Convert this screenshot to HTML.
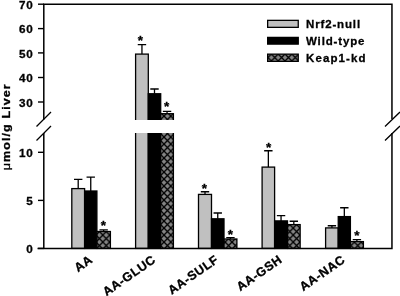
<!DOCTYPE html>
<html><head><meta charset="utf-8"><title>chart</title>
<style>
html,body{margin:0;padding:0;background:#fff;}
body{width:400px;height:296px;overflow:hidden;}
svg{display:block;}
text{font-family:"Liberation Sans",sans-serif;font-weight:bold;font-size:11.5px;fill:#000;letter-spacing:1px;stroke:#000;stroke-width:0.3px;}
</style></head><body>
<svg width="400" height="296" viewBox="0 0 400 296">
<defs>
<pattern id="hx" width="6.8" height="7" patternUnits="userSpaceOnUse" patternTransform="translate(0.8,4.1)">
<rect width="7" height="7" fill="#848484"/>
<path d="M-0.97,-1 L7.77,8 M-0.97,8 L7.77,-1" stroke="#000" stroke-width="1.35" fill="none"/>
</pattern>
<pattern id="hx2" width="6.8" height="7" patternUnits="userSpaceOnUse" patternTransform="translate(-0.6,5.05)">
<rect width="7" height="7" fill="#848484"/>
<path d="M-0.97,-1 L7.77,8 M-0.97,8 L7.77,-1" stroke="#000" stroke-width="1.35" fill="none"/>
</pattern>
</defs>
<rect width="400" height="296" fill="#fff"/>

<path d="M78.20,188.6 V179.4 M74.00,179.4 H82.40" stroke="#000" stroke-width="1.3" fill="none"/>
<rect x="71.8" y="188.6" width="12.80" height="59.80" fill="#c0c0c0" stroke="#000" stroke-width="1.3"/>
<path d="M90.75,191 V177.2 M86.55,177.2 H94.95" stroke="#000" stroke-width="1.3" fill="none"/>
<rect x="84.6" y="191" width="12.30" height="57.40" fill="#000" stroke="#000" stroke-width="1.3"/>
<path d="M103.65,231.5 V229.8 M99.45,229.8 H107.85" stroke="#000" stroke-width="1.3" fill="none"/>
<rect x="96.9" y="231.5" width="13.50" height="16.90" fill="url(#hx)" stroke="#000" stroke-width="1.3"/>
<text x="103.4" y="229.85" text-anchor="middle" style="letter-spacing:0;font-size:13.5px">*</text>
<path d="M141.95,54.1 V44.6 M137.75,44.6 H146.15" stroke="#000" stroke-width="1.3" fill="none"/>
<rect x="135.6" y="54.1" width="12.70" height="194.30" fill="#c0c0c0" stroke="#000" stroke-width="1.3"/>
<path d="M154.50,93.75 V89 M150.30,89 H158.70" stroke="#000" stroke-width="1.3" fill="none"/>
<rect x="148.3" y="93.75" width="12.40" height="154.65" fill="#000" stroke="#000" stroke-width="1.3"/>
<path d="M167.05,113.7 V111.4 M162.85,111.4 H171.25" stroke="#000" stroke-width="1.3" fill="none"/>
<rect x="160.7" y="113.7" width="12.70" height="134.70" fill="url(#hx)" stroke="#000" stroke-width="1.3"/>
<text x="140.5" y="45.2" text-anchor="middle" style="letter-spacing:0;font-size:13.5px">*</text>
<text x="166.6" y="110.95" text-anchor="middle" style="letter-spacing:0;font-size:13.5px">*</text>
<path d="M205.00,194.4 V191.75 M200.80,191.75 H209.20" stroke="#000" stroke-width="1.3" fill="none"/>
<rect x="198.5" y="194.4" width="13.00" height="54.00" fill="#c0c0c0" stroke="#000" stroke-width="1.3"/>
<path d="M217.75,218.8 V213 M213.55,213 H221.95" stroke="#000" stroke-width="1.3" fill="none"/>
<rect x="211.5" y="218.8" width="12.50" height="29.60" fill="#000" stroke="#000" stroke-width="1.3"/>
<path d="M230.45,239.0 V237.6 M226.25,237.6 H234.65" stroke="#000" stroke-width="1.3" fill="none"/>
<rect x="224" y="239.0" width="12.90" height="9.40" fill="url(#hx)" stroke="#000" stroke-width="1.3"/>
<text x="204.4" y="192.7" text-anchor="middle" style="letter-spacing:0;font-size:13.5px">*</text>
<text x="230.4" y="238.75" text-anchor="middle" style="letter-spacing:0;font-size:13.5px">*</text>
<path d="M268.35,167.1 V150.75 M264.15,150.75 H272.55" stroke="#000" stroke-width="1.3" fill="none"/>
<rect x="262.1" y="167.1" width="12.50" height="81.30" fill="#c0c0c0" stroke="#000" stroke-width="1.3"/>
<path d="M281.05,220.9 V215.6 M276.85,215.6 H285.25" stroke="#000" stroke-width="1.3" fill="none"/>
<rect x="274.6" y="220.9" width="12.90" height="27.50" fill="#000" stroke="#000" stroke-width="1.3"/>
<path d="M293.82,224.6 V221.25 M289.62,221.25 H298.02" stroke="#000" stroke-width="1.3" fill="none"/>
<rect x="287.5" y="224.6" width="12.65" height="23.80" fill="url(#hx)" stroke="#000" stroke-width="1.3"/>
<text x="268.75" y="151.75" text-anchor="middle" style="letter-spacing:0;font-size:13.5px">*</text>
<path d="M331.93,227.9 V225.75 M327.73,225.75 H336.12" stroke="#000" stroke-width="1.3" fill="none"/>
<rect x="325.6" y="227.9" width="12.65" height="20.50" fill="#c0c0c0" stroke="#000" stroke-width="1.3"/>
<path d="M344.32,216.6 V207.75 M340.12,207.75 H348.52" stroke="#000" stroke-width="1.3" fill="none"/>
<rect x="338.25" y="216.6" width="12.15" height="31.80" fill="#000" stroke="#000" stroke-width="1.3"/>
<path d="M356.90,241.6 V239.7 M352.70,239.7 H361.10" stroke="#000" stroke-width="1.3" fill="none"/>
<rect x="350.4" y="241.6" width="13.00" height="6.80" fill="url(#hx)" stroke="#000" stroke-width="1.3"/>
<text x="357" y="240.4" text-anchor="middle" style="letter-spacing:0;font-size:13.5px">*</text>
<rect x="130" y="120" width="50" height="13" fill="#fff"/>
<path d="M43.8,4.2 H391.95 M43.8,3.45 V119.5 M43.8,133 V248.4 M391.95,3.45 V119 M391.95,133 V249.15 M37.5,248.4 H391.95" stroke="#000" stroke-width="1.5" fill="none"/>
<path d="M38,4.2 H44" stroke="#000" stroke-width="1.4"/>
<text x="33.7" y="8.90" text-anchor="end" style="font-size:11.7px;letter-spacing:0.9px">70</text>
<path d="M38,28.6 H44" stroke="#000" stroke-width="1.4"/>
<text x="33.7" y="33.30" text-anchor="end" style="font-size:11.7px;letter-spacing:0.9px">60</text>
<path d="M38,52.9 H44" stroke="#000" stroke-width="1.4"/>
<text x="33.7" y="57.60" text-anchor="end" style="font-size:11.7px;letter-spacing:0.9px">50</text>
<path d="M38,77.5 H44" stroke="#000" stroke-width="1.4"/>
<text x="33.7" y="82.20" text-anchor="end" style="font-size:11.7px;letter-spacing:0.9px">40</text>
<path d="M38,102 H44" stroke="#000" stroke-width="1.4"/>
<text x="33.7" y="106.70" text-anchor="end" style="font-size:11.7px;letter-spacing:0.9px">30</text>
<path d="M38,152.3 H44" stroke="#000" stroke-width="1.4"/>
<text x="33.7" y="157.00" text-anchor="end" style="font-size:11.7px;letter-spacing:0.9px">10</text>
<path d="M38,200.4 H44" stroke="#000" stroke-width="1.4"/>
<text x="33.7" y="205.10" text-anchor="end" style="font-size:11.7px;letter-spacing:0.9px">5</text>
<path d="M38,248.4 H44" stroke="#000" stroke-width="1.4"/>
<text x="33.7" y="253.10" text-anchor="end" style="font-size:11.7px;letter-spacing:0.9px">0</text>
<path d="M36.5,126.5 L51,112 M36.5,140.5 L51,126 M385,126.5 L400,112 M385,140.5 L400,126" stroke="#000" stroke-width="1.3" fill="none"/>
<text transform="translate(10,170.3) rotate(-90) scale(1.09,1)" x="0" y="0"><tspan style="font-weight:normal">μ</tspan>mol/g Liver</text>
<text transform="translate(93.5,261.5) rotate(-35)" text-anchor="end" style="font-size:12.5px;letter-spacing:0.5px">AA</text>
<text transform="translate(156.5,261.5) rotate(-35)" text-anchor="end" style="font-size:12.5px;letter-spacing:0.5px">AA-GLUC</text>
<text transform="translate(219.5,261.5) rotate(-35)" text-anchor="end" style="font-size:12.5px;letter-spacing:0.5px">AA-SULF</text>
<text transform="translate(283,261.5) rotate(-35)" text-anchor="end" style="font-size:12.5px;letter-spacing:0.5px">AA-GSH</text>
<text transform="translate(346,261.5) rotate(-35)" text-anchor="end" style="font-size:12.5px;letter-spacing:0.5px">AA-NAC</text>
<rect x="267.65" y="20.35" width="30.6" height="7.0" fill="#c0c0c0" stroke="#000" stroke-width="1.3"/>
<rect x="267.65" y="37.4" width="30.6" height="6.7" fill="#000" stroke="#000" stroke-width="1.3"/>
<rect x="267.65" y="54.15" width="30.6" height="7.2" fill="url(#hx2)" stroke="#000" stroke-width="1.3"/>
<text x="306" y="28" style="letter-spacing:0.85px">Nrf2-null</text>
<text x="306" y="44.5" style="letter-spacing:0.85px">Wild-type</text>
<text x="306" y="61.5" style="letter-spacing:1.1px">Keap1-kd</text>
</svg></body></html>
